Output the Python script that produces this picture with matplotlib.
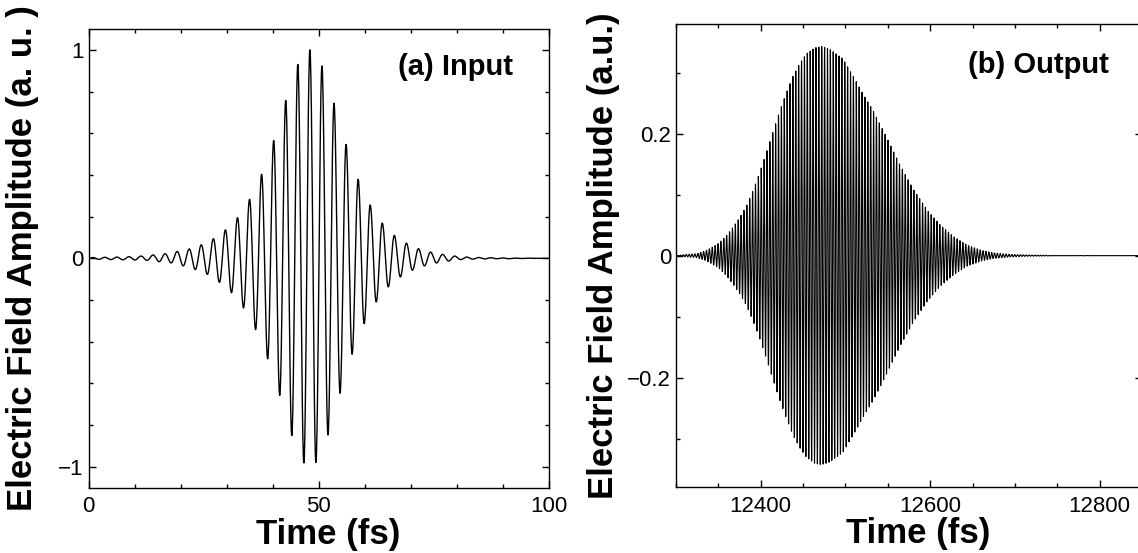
import numpy as np
import matplotlib.pyplot as plt
from matplotlib.ticker import MultipleLocator, FuncFormatter

plt.rcParams['font.family'] = ['Liberation Sans', 'DejaVu Sans']

# (a) input pulse: successive extrema, one every half period
in_center = 48.06      # fs, time of the largest maximum
in_half_period = 1.31  # fs
in_first_index = -36   # index of the first extremum relative to the centre one
in_extrema = [
    0.004, -0.005, 0.005, -0.006, 0.006, -0.007, 0.008, -0.008, 0.011, -0.010,
    0.016, -0.016, 0.022, -0.022, 0.033, -0.036, 0.045, -0.054, 0.065, -0.077,
    0.094, -0.115, 0.137, -0.165, 0.195, -0.238, 0.283, -0.342, 0.403, -0.482,
    0.565, -0.657, 0.757, -0.850, 0.930, -0.981, 1.000, -0.979, 0.923, -0.847,
    0.744, -0.647, 0.546, -0.460, 0.379, -0.313, 0.256, -0.209, 0.169, -0.137,
    0.110, -0.089, 0.073, -0.057, 0.046, -0.036, 0.030, -0.022, 0.019, -0.013,
    0.011, -0.006, 0.006, -0.004, 0.004, -0.003, 0.003, -0.002, 0.002, -0.002,
    0.001, -0.001, 0.001, 0.0, 0.0, 0.0,
]
in_range = (0, 100)

out_env_t = [12300, 12312, 12324, 12335, 12343, 12351, 12359, 12367, 12375,
             12383, 12391, 12398, 12406, 12414, 12422, 12430, 12438, 12446,
             12454, 12464, 12472, 12481, 12497, 12513, 12520, 12533, 12549,
             12565, 12581, 12597, 12612, 12628, 12644, 12660, 12675, 12695,
             12715, 12750, 12850]
out_env = [0.0, 0.002, 0.003, 0.008, 0.014, 0.021, 0.032, 0.046, 0.062,
           0.081, 0.107, 0.133, 0.166, 0.201, 0.235, 0.266, 0.294, 0.315,
           0.331, 0.341, 0.343, 0.339, 0.323, 0.285, 0.267, 0.237, 0.193,
           0.147, 0.107, 0.074, 0.050, 0.031, 0.017, 0.009, 0.0045, 0.002,
           0.001, 0.0003, 0.0]
out_period = 3.4
out_peak_t = 12472


def half_cosine_trace(node_t, node_y, n=24):
    ts, ys = [], []
    for i in range(len(node_t) - 1):
        s = np.linspace(0, 1, n, endpoint=False)
        ts.append(node_t[i] + (node_t[i + 1] - node_t[i]) * s)
        ys.append(node_y[i] + (node_y[i + 1] - node_y[i]) * (1 - np.cos(np.pi * s)) / 2)
    ts.append([node_t[-1]])
    ys.append([node_y[-1]])
    return np.concatenate(ts), np.concatenate(ys)


k = np.arange(len(in_extrema)) + in_first_index
node_t = np.concatenate([[in_range[0]], in_center + k * in_half_period, [in_range[1]]])
node_y = np.concatenate([[0.0], in_extrema, [0.0]])
t_in, e_in = half_cosine_trace(node_t, node_y)

t_out = np.arange(out_env_t[0], out_env_t[-1], 0.04)
e_out = np.interp(t_out, out_env_t, out_env) * np.cos(2 * np.pi * (t_out - out_peak_t) / out_period)


def minus_fmt(v, pos):
    return ('%g' % v).replace('-', '\u2212')


fig = plt.figure(figsize=(11.38, 5.53), dpi=100)
ax1 = fig.add_axes([0.0779, 0.1181, 0.4045, 0.8295])
ax2 = fig.add_axes([0.5940, 0.1188, 0.4095, 0.8378])

ax1.plot(t_in, e_in, color='black', lw=1.0)
ax1.set_xlim(0, 100)
ax1.set_ylim(-1.1, 1.1)
ax1.xaxis.set_major_locator(MultipleLocator(50))
ax1.xaxis.set_minor_locator(MultipleLocator(10))
ax1.yaxis.set_major_locator(MultipleLocator(1))
ax1.yaxis.set_minor_locator(MultipleLocator(0.2))
ax1.text(0.921, 0.90, '(a) Input', transform=ax1.transAxes, ha='right',
         va='baseline', fontsize=21, fontweight='bold')
ax1.set_ylabel('Electric Field Amplitude (a. u. )', fontsize=25, fontweight='bold')
ax1.yaxis.set_label_coords(-0.108, 0.5)

ax2.plot(t_out, e_out, color='black', lw=0.8)
ax2.set_xlim(12300, 12850)
ax2.set_ylim(-0.38, 0.38)
ax2.xaxis.set_major_locator(MultipleLocator(200))
ax2.xaxis.set_minor_locator(MultipleLocator(50))
ax2.yaxis.set_major_locator(MultipleLocator(0.2))
ax2.yaxis.set_minor_locator(MultipleLocator(0.1))
ax2.text(0.928, 0.895, '(b) Output', transform=ax2.transAxes, ha='right',
         va='baseline', fontsize=21, fontweight='bold')
ax2.set_ylabel('Electric Field Amplitude (a.u.)', fontsize=25, fontweight='bold')
ax2.yaxis.set_label_coords(-0.120, 0.5)

for ax in (ax1, ax2):
    ax.set_xlabel('Time (fs)', fontsize=25, fontweight='bold')
    ax.xaxis.set_label_coords(0.52, -0.065)
    ax.xaxis.set_major_formatter(FuncFormatter(minus_fmt))
    ax.yaxis.set_major_formatter(FuncFormatter(minus_fmt))
    ax.tick_params(which='both', direction='in', top=True, right=True,
                   labelsize=16, width=1.0)
    ax.tick_params(which='major', length=5)
    ax.tick_params(which='minor', length=3)
    ax.tick_params(axis='x', which='major', pad=6)
    for sp in ax.spines.values():
        sp.set_linewidth(1.0)

fig.savefig('out.png', dpi=100, facecolor='white')
